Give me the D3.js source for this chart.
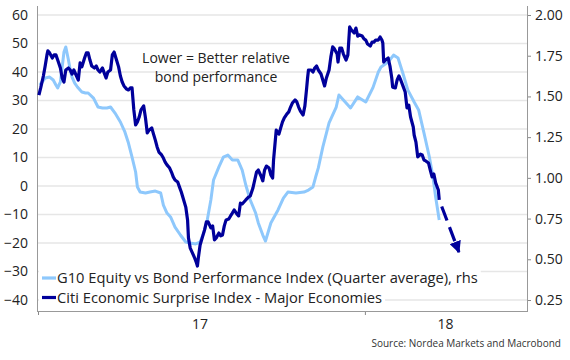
<!DOCTYPE html>
<html>
<head>
<meta charset="utf-8">
<script src="https://cdn.jsdelivr.net/npm/d3@7"></script>
<style>
  html, body { margin: 0; padding: 0; background: #fff; }
  svg { display: block; font-family: "Open Sans", sans-serif; }
</style>
</head>
<body>
<svg id="chart" width="570" height="360"></svg>
<script>
// ---- DATA ----
// days since 2017-01-01
const citiDay = [1,3,6,8,10,11,13,16,18,20,22,25,27,29,31,34,36,38,40,43,45,47,49,52,54,56,58,60,63,65,67,69,72,74,76,78,81,83,85,87,90,92,94,96,99,101,103,105,107,109,111,113,115,118,120,122,124,127,129,131,133,135,138,140,142,144,147,149,151,153,156,158,160,162,165,167,168,170,172,175,177,178,179,181,184,186,188,190,193,195,197,199,202,204,206,208,210,213,215,217,219,222,224,226,228,232,235,237,240,242,244,246,249,251,253,255,258,260,262,263,265,266,269,271,273,275,278,280,282,284,287,289,291,293,296,298,300,301,302,305,307,309,311,313,316,318,320,322,325,327,329,331,334,335,337,339,341,344,346,348,350,353,355,357,359,362,364,366,368,371,373,375,377,380,382,384,385,386,388,391,393,395,396,399,401,403,405,408,410,412,414,416,419,420,422,424,427,429,431,433,436,438,440,442,444,447,448];
// Citi Economic Surprise Index - Major Economies (lhs)
const citiValue = [31.9,34.4,38.6,42.1,46.0,47.4,46.7,44.9,46.0,46.0,44.2,41.4,37.9,36.5,40.7,41.4,40.7,39.3,40.7,38.6,37.2,43.2,41.8,44.9,46.7,46.7,44.2,42.1,41.4,42.1,40.7,40.0,41.4,39.6,37.9,40.0,40.7,46.0,47.0,44.9,41.8,38.6,36.5,35.1,34.0,33.7,34.4,34.4,26.7,21.4,22.5,24.2,26.7,28.1,23.9,18.6,19.6,20.4,18.2,16.1,13.7,11.9,10.9,9.8,8.4,7.4,6.3,4.9,3.2,2.1,1.4,-0.4,-2.1,-4.2,-7.4,-11.9,-18.2,-21.8,-23.2,-25.3,-27.0,-28.1,-25.3,-20.7,-17.5,-15.4,-12.6,-12.6,-14.7,-14.0,-18.9,-18.2,-16.5,-17.5,-17.2,-14.0,-11.9,-11.6,-10.5,-9.5,-8.4,-9.8,-10.5,-6.0,-6.3,-4.9,-3.9,-3.5,-0.7,2.1,4.9,5.6,3.5,1.8,5.6,7.0,6.3,3.9,2.8,9.1,16.1,19.6,18.2,20.4,22.5,23.9,25.3,26.0,27.7,29.1,30.2,29.5,27.7,26.3,24.9,28.1,34.4,37.9,40.7,40.7,40.0,41.4,42.1,40.7,39.3,37.2,35.1,37.9,40.7,45.3,48.8,48.1,46.3,43.5,48.4,48.4,46.3,44.2,46.0,55.8,54.7,53.7,55.4,52.6,53.0,52.6,51.6,51.2,49.8,49.1,50.5,50.5,51.2,51.2,52.3,51.2,50.2,43.5,44.2,44.9,42.1,37.9,34.7,34.4,37.2,38.6,37.2,34.7,33.0,27.4,28.4,24.2,20.7,17.9,15.4,10.2,11.2,10.9,9.1,8.8,8.1,5.6,3.2,4.2,1.1,-1.4,-4.9];
// projected path of the Citi index (dashed arrow)
const citiForecastDay = [448, 470];
const citiForecastValue = [-4.9, -23.2];

// G10 Equity vs Bond Performance Index (Quarter average), rhs
const g10Day = [2,8,13,17,20,22,25,27,29,31,34,36,38,41,44,47,49,53,56,62,67,72,77,81,86,92,97,101,105,109,111,114,120,125,131,137,140,144,148,153,159,165,170,176,181,185,189,193,196,202,207,212,217,223,228,232,237,243,246,251,254,260,268,274,279,288,297,302,307,310,313,318,325,333,336,341,349,357,366,374,380,383,391,397,402,408,413,420,425,431,437,441,444,448];
const g10Value = [1.570,1.613,1.619,1.601,1.570,1.552,1.589,1.681,1.773,1.804,1.724,1.662,1.619,1.582,1.558,1.539,1.527,1.521,1.521,1.490,1.435,1.429,1.429,1.435,1.398,1.343,1.282,1.214,1.128,1.036,0.944,0.913,0.907,0.913,0.919,0.907,0.833,0.784,0.760,0.698,0.649,0.606,0.600,0.594,0.606,0.661,0.741,0.864,0.987,1.067,1.128,1.140,1.110,1.110,1.048,0.956,0.864,0.784,0.723,0.649,0.612,0.723,0.803,0.876,0.913,0.907,0.913,0.925,0.944,1.005,1.061,1.189,1.337,1.435,1.509,1.478,1.429,1.497,1.466,1.554,1.650,1.681,1.711,1.754,1.736,1.632,1.539,1.466,1.417,1.275,1.128,1.005,0.882,0.741];

const leftTicks = [-40,-30,-20,-10,0,10,20,30,40,50,60];
const rightTicks = [0.25,0.50,0.75,1.00,1.25,1.50,1.75,2.00];
const yearTicks = ["2017-01-01","2018-01-01"];
const yearLabels = [{date:"2017-07-01", label:"17"},{date:"2018-04-01", label:"18"}];
const seriesNames = ["G10 Equity vs Bond Performance Index (Quarter average), rhs", "Citi Economic Surprise Index - Major Economies"];
const annotation = ["Lower = Better relative", "bond performance"];
const sourceText = "Source: Nordea Markets and Macrobond";

// ---- CHART ----
const svg = d3.select("#chart");
const darkBlue = "#00009b";
const lightBlue = "#8ec8fc";
const start = new Date(Date.UTC(2017,0,1));
const toDate = d => d3.utcDay.offset(start, d);

const x = d3.scaleUtc().domain([start, new Date(Date.UTC(2018,6,1))]).range([38, 527]);
const yL = d3.scaleLinear().domain([-40, 60]).range([300, 15]);
const yR = d3.scaleLinear().domain([0.25, 2.00]).range([300, 15]);

const plotTop = 6, plotBottom = 311, plotLeft = 37, plotRight = 527;
const fs = 14;

// gridlines
svg.append("g").selectAll("line").data(leftTicks).join("line")
  .attr("x1", plotLeft).attr("x2", plotRight)
  .attr("y1", d => yL(d)).attr("y2", d => yL(d))
  .attr("stroke", "#e6e6e6").attr("stroke-width", 1.6);

// left axis
const gL = svg.append("g").attr("transform", `translate(${plotLeft},0)`)
  .call(d3.axisLeft(yL).tickValues(leftTicks).tickSize(0).tickPadding(9).tickFormat(d3.format("d")));
gL.select(".domain").remove();
gL.selectAll("text").attr("font-size", fs).attr("fill", "#222").attr("font-family", "Open Sans, sans-serif");

// right axis
const gR = svg.append("g").attr("transform", `translate(${plotRight},0)`)
  .call(d3.axisRight(yR).tickValues(rightTicks).tickSize(4).tickPadding(4).tickFormat(d3.format(".2f")));
gR.select(".domain").remove();
gR.selectAll("line").attr("stroke", "#888");
gR.selectAll("text").attr("font-size", fs).attr("fill", "#222").attr("font-family", "Open Sans, sans-serif");

// bottom axis ticks
const gB = svg.append("g").attr("transform", `translate(0,${plotBottom})`)
  .call(d3.axisBottom(x).tickValues(yearTicks.map(d => new Date(d))).tickSize(4).tickFormat(""));
gB.select(".domain").remove();
gB.selectAll("line").attr("stroke", "#888");
svg.append("g").selectAll("text").data(yearLabels).join("text")
  .attr("x", d => x(new Date(d.date))).attr("y", 329)
  .attr("text-anchor", "middle").attr("font-size", fs).attr("fill", "#222")
  .text(d => d.label);

// frame lines
svg.append("line").attr("x1", plotLeft + 0.5).attr("x2", plotLeft + 0.5).attr("y1", plotTop).attr("y2", plotBottom).attr("stroke", "#999");
svg.append("line").attr("x1", plotRight + 0.5).attr("x2", plotRight + 0.5).attr("y1", plotTop).attr("y2", plotBottom).attr("stroke", "#999");
svg.append("line").attr("x1", plotLeft).attr("x2", plotRight + 1).attr("y1", plotBottom + 0.5).attr("y2", plotBottom + 0.5).attr("stroke", "#999");

// lines
const lineL = d3.line().x(d => x(toDate(d[0]))).y(d => yL(d[1]));
const lineR = d3.line().x(d => x(toDate(d[0]))).y(d => yR(d[1]));

svg.append("path").datum(g10Day.map((d, i) => [d, g10Value[i]]))
  .attr("d", lineR).attr("fill", "none").attr("stroke", lightBlue)
  .attr("stroke-width", 3).attr("stroke-linejoin", "round");

svg.append("path").datum(citiDay.map((d, i) => [d, citiValue[i]]))
  .attr("d", lineL).attr("fill", "none").attr("stroke", darkBlue)
  .attr("stroke-width", 3.2).attr("stroke-linejoin", "round");

// arrow marker
svg.append("defs").append("marker")
  .attr("id", "arrow").attr("viewBox", "0 -5 10 10")
  .attr("refX", 9).attr("refY", 0)
  .attr("markerUnits", "userSpaceOnUse")
  .attr("markerWidth", 12).attr("markerHeight", 12)
  .attr("orient", "auto")
  .append("path").attr("d", "M0,-5L10,0L0,5Z").attr("fill", darkBlue);

svg.append("path").datum(citiForecastDay.map((d, i) => [d, citiForecastValue[i]]))
  .attr("d", lineL).attr("fill", "none").attr("stroke", darkBlue)
  .attr("stroke-width", 3.2).attr("stroke-dasharray", "15,7").attr("stroke-dashoffset", 15)
  .attr("marker-end", "url(#arrow)");

// annotation (two lines)
svg.append("g").selectAll("text").data(annotation).join("text")
  .attr("x", 216).attr("y", (d, i) => 63 + i * 18.5)
  .attr("text-anchor", "middle").attr("font-size", fs).attr("fill", "#222")
  .text(d => d);

// legend
const legendColors = [lightBlue, darkBlue];
const lg = svg.append("g");
seriesNames.forEach((name, i) => {
  const yb = 283 + i * 19.5;
  const g = lg.append("g");
  const bg = g.append("rect").attr("fill", "#fff");
  g.append("line").attr("x1", 42).attr("x2", 56).attr("y1", yb - 5).attr("y2", yb - 5)
    .attr("stroke", legendColors[i]).attr("stroke-width", 3.2);
  const t = g.append("text").attr("x", 57).attr("y", yb).attr("font-size", 14.7).attr("fill", "#222").text(name);
  const w = t.node().getComputedTextLength();
  bg.attr("x", 39).attr("y", yb - 13).attr("width", w + 21).attr("height", 18);
});

// source
svg.append("text").attr("x", 561).attr("y", 347).attr("text-anchor", "end")
  .attr("font-size", 10).attr("fill", "#333").text(sourceText);
</script>
</body>
</html>
